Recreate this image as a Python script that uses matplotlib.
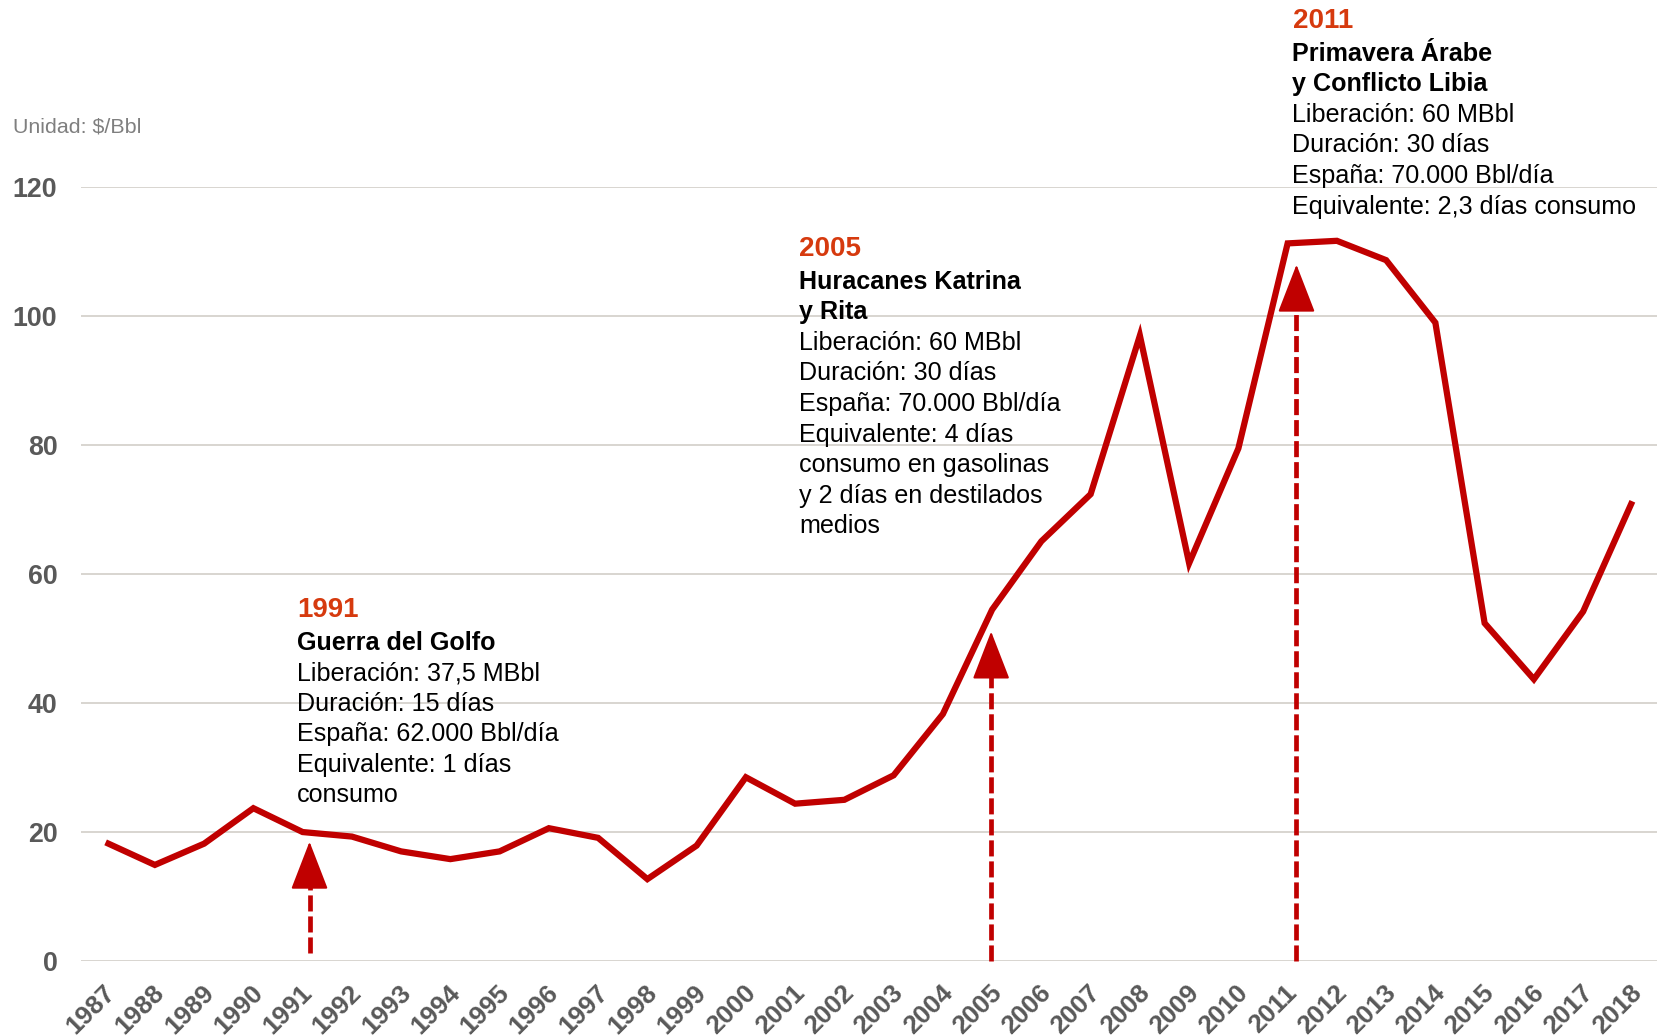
import matplotlib
matplotlib.use("Agg")
import matplotlib.pyplot as plt
from matplotlib import transforms

# ---------------- data ----------------
years = list(range(1987, 2019))
prices = [18.4, 14.9, 18.2, 23.7, 20.0, 19.3, 17.0, 15.8, 17.0, 20.6,
          19.1, 12.7, 17.9, 28.5, 24.4, 25.0, 28.8, 38.3, 54.5, 65.1,
          72.4, 97.0, 61.7, 79.5, 111.3, 111.7, 108.7, 99.0, 52.4, 43.7,
          54.2, 71.3]
y_ticks = [0, 20, 40, 60, 80, 100, 120]
unit_label = "Unidad: $/Bbl"

# release events: arrow position (year index offset), shaft start and tip value
arrow_pos = [4.14, 17.98, 24.18]
arrow_base = [1.2, 0.0, 0.0]
arrow_tip = [18.5, 51.1, 108.0]

event_years = ["1991", "2005", "2011"]
event_titles = [["Guerra del Golfo"],
                ["Huracanes Katrina", "y Rita"],
                ["Primavera Árabe", "y Conflicto Libia"]]
event_body = [["Liberación: 37,5 MBbl", "Duración: 15 días",
               "España: 62.000 Bbl/día", "Equivalente: 1 días", "consumo"],
              ["Liberación: 60 MBbl", "Duración: 30 días",
               "España: 70.000 Bbl/día", "Equivalente: 4 días",
               "consumo en gasolinas", "y 2 días en destilados", "medios"],
              ["Liberación: 60 MBbl", "Duración: 30 días",
               "España: 70.000 Bbl/día", "Equivalente: 2,3 días consumo"]]

# ---------------- style ----------------
W, H = 1661, 1036
RED = "#C00000"
YEAR_COL = "#D63A0E"
GRID = "#D8D5D0"
TICK_COL = "#595959"
FONT = ["Liberation Sans", "DejaVu Sans"]
plt.rcParams["font.family"] = FONT

fig = plt.figure(figsize=(W / 100, H / 100), dpi=100)
ax = fig.add_axes([81 / W, 75 / H, (1657 - 81) / W, (961 - 187.3) / H])
x = list(range(len(years)))

ax.set_xlim(-0.5, len(years) - 0.5)
ax.set_ylim(0, 120)
for s in ax.spines.values():
    s.set_visible(False)
ax.set_yticks(y_ticks)
ax.set_yticklabels([str(v) for v in y_ticks], fontsize=19.3,
                   fontweight="bold", color=TICK_COL)
ax.yaxis.grid(True, color=GRID, lw=1.4)
ax.set_axisbelow(True)
ax.tick_params(axis="y", length=0, pad=17)
ax.set_xticks(x)
ax.set_xticklabels([str(y) for y in years], fontsize=18.8, fontweight="bold",
                   color=TICK_COL, rotation=45, ha="right", va="center",
                   rotation_mode="anchor")
ax.tick_params(axis="x", length=0, pad=20)
off = transforms.ScaledTranslation(4.3 / 72, 0, fig.dpi_scale_trans)
for lab in ax.get_xticklabels():
    lab.set_transform(lab.get_transform() + off)

ax.plot(x, prices, color=RED, lw=4.5, solid_joinstyle="miter",
        solid_capstyle="butt", zorder=3, clip_on=False)

head_len = 31 / 72 * 100 / ((961 - 187.3) / 120)  # in data units
for px, b, t in zip(arrow_pos, arrow_base, arrow_tip):
    ax.plot([px, px], [b, t - head_len * 0.95], color=RED, lw=3.4,
            ls=(0, (3.4, 1.05)), dash_capstyle="butt", zorder=4, clip_on=False)
    ax.annotate("", xy=(px, t), xytext=(px, t - head_len),
                arrowprops=dict(arrowstyle="-|>,head_length=3.1,head_width=1.2",
                                mutation_scale=10, color=RED, lw=1.5,
                                shrinkA=0, shrinkB=0, joinstyle="round"),
                zorder=5)

# ---------------- text ----------------
def put(xp, yp, s, **kw):
    fig.text(xp / W, 1 - yp / H, s, va="baseline", ha="left", **kw)

put(12.7, 132, unit_label, fontsize=15.4, color="#7F7F7F")

block_x = [297, 799, 1292.5]
block_y = [617, 256, 28]
for bx, by, yr, titles, body in zip(block_x, block_y, event_years,
                                    event_titles, event_body):
    put(bx, by, yr, fontsize=20, fontweight="bold", color=YEAR_COL)
    yy = by + 33
    for t in titles:
        put(bx, yy, t, fontsize=18.1, fontweight="bold", color="black")
        yy += 30.5
    for t in body:
        put(bx, yy, t, fontsize=18.1, color="black")
        yy += 30.5

fig.savefig("out.png", dpi=100, facecolor="white")
